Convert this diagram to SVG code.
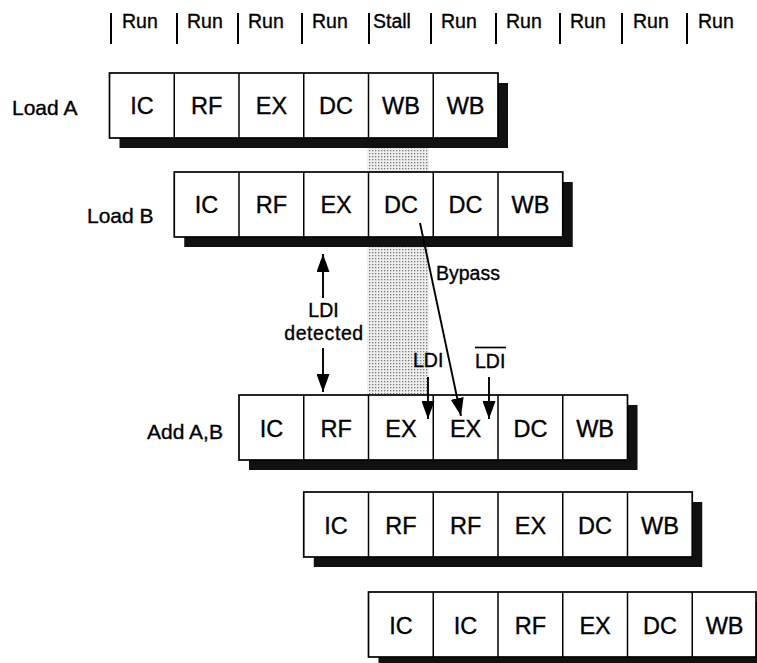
<svg xmlns="http://www.w3.org/2000/svg" width="757" height="663" viewBox="0 0 757 663">
<defs>
<style>
text{font-family:"Liberation Sans",Arial,Helvetica,sans-serif;fill:#000;stroke:#000;stroke-width:0.35}
.hdr{font-size:19.5px}
.lbl{font-size:21px}
.cell{font-size:23.5px;text-anchor:middle}
.note{font-size:19.5px}
.tick{stroke:#000;stroke-width:2}
.box{fill:#fff;stroke:#000;stroke-width:1.7}
.div{stroke:#000;stroke-width:1.5}
.shadow{fill:#111}
.conn{stroke:#000;stroke-width:1.9;fill:none}
</style>
<pattern id="dots" width="3" height="3" patternUnits="userSpaceOnUse">
<rect width="3" height="3" fill="#eeeeee"/>
<rect x="0" y="0" width="1.3" height="1.3" fill="#7a7a7a"/>
</pattern>
<marker id="ah" markerUnits="userSpaceOnUse" markerWidth="18" markerHeight="13" refX="18" refY="6.5" orient="auto">
<path d="M0,0 L18,6.5 L0,13 z" fill="#000"/>
</marker>
</defs>
<rect width="757" height="663" fill="#fff"/>

<g id="header">
<line class="tick" x1="111" y1="13" x2="111" y2="44"/><text class="hdr" x="122" y="28">Run</text>
<line class="tick" x1="177" y1="13" x2="177" y2="44"/><text class="hdr" x="187" y="28">Run</text>
<line class="tick" x1="238" y1="13" x2="238" y2="44"/><text class="hdr" x="248" y="28">Run</text>
<line class="tick" x1="302" y1="13" x2="302" y2="44"/><text class="hdr" x="312" y="28">Run</text>
<line class="tick" x1="369" y1="13" x2="369" y2="44"/><text class="hdr" x="373" y="28">Stall</text>
<line class="tick" x1="431" y1="13" x2="431" y2="44"/><text class="hdr" x="441" y="28">Run</text>
<line class="tick" x1="496" y1="13" x2="496" y2="44"/><text class="hdr" x="506" y="28">Run</text>
<line class="tick" x1="560" y1="13" x2="560" y2="44"/><text class="hdr" x="570" y="28">Run</text>
<line class="tick" x1="622" y1="13" x2="622" y2="44"/><text class="hdr" x="633" y="28">Run</text>
<line class="tick" x1="687" y1="13" x2="687" y2="44"/><text class="hdr" x="698" y="28">Run</text>
</g>

<g id="stall-shading">
<rect x="367.5" y="148" width="61.5" height="247" fill="url(#dots)"/>
</g>

<g id="row-load-a">
<text class="lbl" x="12" y="115">Load A</text>
<rect class="shadow" x="119.5" y="83" width="388.5" height="65"/>
<rect class="box" x="109.5" y="73" width="388.5" height="65"/>
<line class="div" x1="174.25" y1="73" x2="174.25" y2="138"/>
<line class="div" x1="239" y1="73" x2="239" y2="138"/>
<line class="div" x1="303.75" y1="73" x2="303.75" y2="138"/>
<line class="div" x1="368.5" y1="73" x2="368.5" y2="138"/>
<line class="div" x1="433.25" y1="73" x2="433.25" y2="138"/>
<text class="cell" x="141.9" y="114">IC</text>
<text class="cell" x="206.6" y="114">RF</text>
<text class="cell" x="271.4" y="114">EX</text>
<text class="cell" x="336.1" y="114">DC</text>
<text class="cell" x="400.9" y="114">WB</text>
<text class="cell" x="465.6" y="114">WB</text>
</g>

<g id="row-load-b">
<text class="lbl" x="87" y="223">Load B</text>
<rect class="shadow" x="184.25" y="182" width="388.5" height="65"/>
<rect class="box" x="174.25" y="172" width="388.5" height="65"/>
<line class="div" x1="239" y1="172" x2="239" y2="237"/>
<line class="div" x1="303.75" y1="172" x2="303.75" y2="237"/>
<line class="div" x1="368.5" y1="172" x2="368.5" y2="237"/>
<line class="div" x1="433.25" y1="172" x2="433.25" y2="237"/>
<line class="div" x1="498" y1="172" x2="498" y2="237"/>
<text class="cell" x="206.6" y="213">IC</text>
<text class="cell" x="271.4" y="213">RF</text>
<text class="cell" x="336.1" y="213">EX</text>
<text class="cell" x="400.9" y="213">DC</text>
<text class="cell" x="465.6" y="213">DC</text>
<text class="cell" x="530.4" y="213">WB</text>
</g>

<g id="row-add">
<text class="lbl" x="147" y="439">Add A,B</text>
<rect class="shadow" x="249" y="405" width="388.5" height="65"/>
<rect class="box" x="239" y="395" width="388.5" height="65"/>
<line class="div" x1="303.75" y1="395" x2="303.75" y2="460"/>
<line class="div" x1="368.5" y1="395" x2="368.5" y2="460"/>
<line class="div" x1="433.25" y1="395" x2="433.25" y2="460"/>
<line class="div" x1="498" y1="395" x2="498" y2="460"/>
<line class="div" x1="562.75" y1="395" x2="562.75" y2="460"/>
<text class="cell" x="271.4" y="436.5">IC</text>
<text class="cell" x="336.1" y="436.5">RF</text>
<text class="cell" x="400.9" y="436.5">EX</text>
<text class="cell" x="465.6" y="436.5">EX</text>
<text class="cell" x="530.4" y="436.5">DC</text>
<text class="cell" x="595.1" y="436.5">WB</text>
</g>

<g id="row-4">
<rect class="shadow" x="313.75" y="502" width="388.5" height="65"/>
<rect class="box" x="303.75" y="492" width="388.5" height="65"/>
<line class="div" x1="368.5" y1="492" x2="368.5" y2="557"/>
<line class="div" x1="433.25" y1="492" x2="433.25" y2="557"/>
<line class="div" x1="498" y1="492" x2="498" y2="557"/>
<line class="div" x1="562.75" y1="492" x2="562.75" y2="557"/>
<line class="div" x1="627.5" y1="492" x2="627.5" y2="557"/>
<text class="cell" x="336.1" y="533.5">IC</text>
<text class="cell" x="400.9" y="533.5">RF</text>
<text class="cell" x="465.6" y="533.5">RF</text>
<text class="cell" x="530.4" y="533.5">EX</text>
<text class="cell" x="595.1" y="533.5">DC</text>
<text class="cell" x="659.9" y="533.5">WB</text>
</g>

<g id="row-5">
<rect class="shadow" x="378.5" y="602" width="388.5" height="65"/>
<rect class="box" x="368.5" y="592" width="387.5" height="65"/>
<line class="div" x1="433.25" y1="592" x2="433.25" y2="657"/>
<line class="div" x1="498" y1="592" x2="498" y2="657"/>
<line class="div" x1="562.75" y1="592" x2="562.75" y2="657"/>
<line class="div" x1="627.5" y1="592" x2="627.5" y2="657"/>
<line class="div" x1="692.25" y1="592" x2="692.25" y2="657"/>
<text class="cell" x="400.9" y="633.5">IC</text>
<text class="cell" x="465.6" y="633.5">IC</text>
<text class="cell" x="530.4" y="633.5">RF</text>
<text class="cell" x="595.1" y="633.5">EX</text>
<text class="cell" x="659.9" y="633.5">DC</text>
<text class="cell" x="724.6" y="633.5">WB</text>
</g>

<g id="connectors">
<line class="conn" x1="420" y1="223" x2="461" y2="416" marker-end="url(#ah)"/>
<line class="conn" x1="323" y1="298" x2="323" y2="254" marker-end="url(#ah)"/>
<line class="conn" x1="323" y1="348" x2="323" y2="392" marker-end="url(#ah)"/>
<line class="conn" x1="428" y1="377" x2="428" y2="419" marker-end="url(#ah)"/>
<line class="conn" x1="489" y1="377" x2="489" y2="419" marker-end="url(#ah)"/>
</g>

<g id="labels">
<text class="note" x="436" y="280">Bypass</text>
<text class="note" x="323.5" y="317" text-anchor="middle">LDI</text>
<text class="note" x="324" y="340" text-anchor="middle" letter-spacing="0.6">detected</text>
<text class="note" x="413" y="367">LDI</text>
<text class="note" x="475" y="368">LDI</text>
<line x1="475" y1="347.5" x2="506" y2="347.5" stroke="#000" stroke-width="1.7"/>
</g>
</svg>
